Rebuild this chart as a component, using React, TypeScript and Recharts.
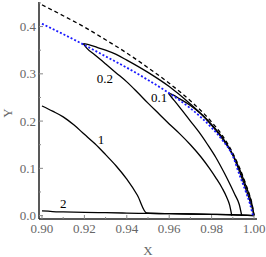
import React from 'react';
import { LineChart, Line, XAxis, YAxis, ReferenceDot, Label } from 'recharts';

// axis ticks (labelled majors, plus minor marks)
const xTicks = [0.9, 0.92, 0.94, 0.96, 0.98, 1.0];
const xMinorTicks = [0.9, 0.91, 0.92, 0.93, 0.94, 0.95, 0.96, 0.97, 0.98, 0.99, 1.0];
const yTicks = [0, 0.1, 0.2, 0.3, 0.4];
const yMinorTicks = [0, 0.05, 0.1, 0.15, 0.2, 0.25, 0.3, 0.35, 0.4, 0.45];

// dashed envelope
const envX = [0.9, 0.91, 0.92, 0.93, 0.94, 0.95, 0.96, 0.97, 0.975, 0.98, 0.985, 0.99, 0.993, 0.996, 0.998, 0.999, 1.0];
const envY = [0.446, 0.423, 0.399, 0.372, 0.344, 0.313, 0.28, 0.243, 0.222, 0.198, 0.17, 0.132, 0.103, 0.068, 0.042, 0.026, 0];

// blue dotted curve
const blueX = [0.9, 0.91, 0.92, 0.93, 0.94, 0.95, 0.96, 0.97, 0.975, 0.98, 0.985, 0.99, 0.993, 0.996, 0.998, 0.9995];
const blueY = [0.406, 0.384, 0.361, 0.337, 0.313, 0.287, 0.259, 0.227, 0.208, 0.186, 0.16, 0.126, 0.088, 0.052, 0.026, 0];

// loop "0.2": upper and lower branch
const up2X = [0.9195, 0.922, 0.926, 0.93, 0.935, 0.94, 0.95, 0.96, 0.97, 0.98, 0.985, 0.99, 0.993, 0.996, 0.998, 0.999, 1.0];
const up2Y = [0.364, 0.362, 0.356, 0.35, 0.341, 0.329, 0.303, 0.273, 0.236, 0.193, 0.166, 0.129, 0.1, 0.065, 0.04, 0.024, 0];
const lo2X = [0.9195, 0.921, 0.925, 0.93, 0.935, 0.94, 0.945, 0.95, 0.955, 0.96, 0.965, 0.97, 0.975, 0.979, 0.982, 0.985, 0.987, 0.9885, 0.9895];
const lo2Y = [0.364, 0.355, 0.34, 0.321, 0.302, 0.283, 0.261, 0.238, 0.216, 0.194, 0.173, 0.15, 0.124, 0.1, 0.08, 0.058, 0.04, 0.022, 0];

// loop "0.1": upper and lower branch
const up1X = [0.9596, 0.962, 0.965, 0.97, 0.975, 0.98, 0.985, 0.99, 0.993, 0.996, 0.998, 0.9995, 1.0];
const up1Y = [0.259, 0.255, 0.247, 0.233, 0.215, 0.191, 0.163, 0.128, 0.095, 0.058, 0.032, 0.01, 0];
const lo1X = [0.9596, 0.961, 0.963, 0.966, 0.97, 0.974, 0.978, 0.982, 0.986, 0.989, 0.991, 0.993, 0.9942];
const lo1Y = [0.259, 0.251, 0.24, 0.223, 0.2, 0.177, 0.151, 0.123, 0.09, 0.063, 0.044, 0.024, 0];

// curve "1"
const c1X = [0.9, 0.905, 0.91, 0.915, 0.92, 0.925, 0.93, 0.935, 0.94, 0.945, 0.9494, 0.96, 0.97, 0.98, 0.99, 1.0];
const c1Y = [0.232, 0.221, 0.209, 0.192, 0.172, 0.152, 0.129, 0.105, 0.077, 0.043, 0.0055, 0.004, 0.0034, 0.0027, 0.0018, 0];

// curve "2"
const c2X = [0.9, 0.905, 0.91, 0.92, 0.93, 0.94, 0.95, 0.96, 0.97, 0.98, 0.99, 0.995, 1.0];
const c2Y = [0.0098, 0.0086, 0.0079, 0.0069, 0.0061, 0.0053, 0.0046, 0.004, 0.0034, 0.0027, 0.0018, 0.0012, 0];

// curve annotations
const noteText = ['1', '2', '0.2', '0.1'];
const noteX = [0.9278, 0.91, 0.9297, 0.9552];
const noteY = [0.162, 0.025, 0.29, 0.251];

const pts = (xs: number[], ys: number[]) => xs.map((x, i) => ({ x, y: ys[i] }));
const isMajor = (list: number[], v: number) => list.some((t) => Math.abs(t - v) < 1e-6);

const FONT = '"Liberation Serif", "Times New Roman", serif';
const FRAME = '#222';
const GREY = '#666';
const TICK = '#888';
// plot frame edges in px
const LEFT = 39;
const RIGHT = 257;
const TOP = 2;
const BOTTOM = 219;

const BottomTick = (p: any) => {
  const v = p.payload.value;
  const major = isMajor(xTicks, v);
  return (
    <g>
      <line x1={p.x} x2={p.x} y1={BOTTOM} y2={BOTTOM - (major ? 4 : 2)} stroke={TICK} />
      {major && (
        <text x={p.x} y={p.y} dy="0.71em" textAnchor="middle" fontSize={13} fill={GREY}>
          {v.toFixed(2)}
        </text>
      )}
    </g>
  );
};

const TopTick = (p: any) => {
  const major = isMajor(xTicks, p.payload.value);
  return <line x1={p.x} x2={p.x} y1={TOP} y2={TOP + (major ? 4 : 2)} stroke={TICK} />;
};

const LeftTick = (p: any) => {
  const v = p.payload.value;
  const major = isMajor(yTicks, v);
  return (
    <g>
      <line x1={LEFT} x2={LEFT + (major ? 4 : 2)} y1={p.y} y2={p.y} stroke={TICK} />
      {major && (
        <text x={p.x} y={p.y} dy="0.355em" textAnchor="end" fontSize={13} fill={GREY}>
          {v.toFixed(1)}
        </text>
      )}
    </g>
  );
};

const RightTick = (p: any) => {
  const major = isMajor(yTicks, p.payload.value);
  return <line x1={RIGHT} x2={RIGHT - (major ? 4 : 2)} y1={p.y} y2={p.y} stroke={TICK} />;
};

const App: React.FC = () => {
  const curve = (key: string, data: { x: number; y: number }[], extra: any = {}) => (
    <Line
      key={key}
      data={data}
      dataKey="y"
      type="monotone"
      stroke="#000"
      strokeWidth={1.3}
      dot={false}
      activeDot={false}
      isAnimationActive={false}
      {...extra}
    />
  );

  return (
    <div style={{ position: 'absolute', left: 0, top: 0, width: 266, height: 257, background: '#fff', fontFamily: FONT }}>
      <style>{`svg text { font-family: ${FONT} !important; }`}</style>
      <LineChart width={266} height={257} margin={{ top: TOP, right: 266 - RIGHT, left: 0, bottom: 0 }}>
        <XAxis
          type="number"
          dataKey="x"
          domain={[0.8986, 1.0014]}
          allowDataOverflow
          ticks={xMinorTicks}
          interval={0}
          tick={<BottomTick />}
          tickSize={-4}
          tickMargin={9}
          height={257 - BOTTOM}
          axisLine={{ stroke: FRAME, strokeWidth: 1.5 }}
          tickLine={false}
          label={{ value: 'X', position: 'insideBottom', offset: 2, style: { fontSize: 13, fill: GREY, fontFamily: FONT } }}
        />
        <XAxis
          xAxisId="top"
          orientation="top"
          type="number"
          dataKey="x"
          domain={[0.8986, 1.0014]}
          allowDataOverflow
          ticks={xMinorTicks}
          interval={0}
          tick={<TopTick />}
          height={0}
          axisLine={{ stroke: FRAME, strokeWidth: 1.5 }}
          tickLine={false}
        />
        <YAxis
          type="number"
          domain={[-0.0072, 0.452]}
          allowDataOverflow
          ticks={yMinorTicks}
          interval={0}
          tick={<LeftTick />}
          tickSize={-4}
          tickMargin={7}
          width={LEFT}
          axisLine={{ stroke: FRAME, strokeWidth: 1.5 }}
          tickLine={false}
        >
          <Label
            content={() => (
              <text
                x={7}
                y={113}
                transform="rotate(-90 7 113)"
                textAnchor="middle"
                dominantBaseline="central"
                fontSize={13}
                fill={GREY}
              >
                Y
              </text>
            )}
          />
        </YAxis>
        <YAxis
          yAxisId="right"
          orientation="right"
          type="number"
          domain={[-0.0072, 0.452]}
          allowDataOverflow
          ticks={yMinorTicks}
          interval={0}
          tick={<RightTick />}
          width={0}
          axisLine={{ stroke: FRAME, strokeWidth: 1.5 }}
          tickLine={false}
        />
        {curve('c2', pts(c2X, c2Y))}
        {curve('c1', pts(c1X, c1Y))}
        {curve('lo2', pts(lo2X, lo2Y))}
        {curve('up2', pts(up2X, up2Y))}
        {curve('lo1', pts(lo1X, lo1Y))}
        {curve('up1', pts(up1X, up1Y))}
        {curve('env', pts(envX, envY), { strokeDasharray: '4 3', strokeWidth: 1.3 })}
        {curve('blue', pts(blueX, blueY), { stroke: '#1a1aff', strokeDasharray: '2 2', strokeWidth: 1.8 })}
        {noteText.map((t, i) => (
          <ReferenceDot
            key={t}
            x={noteX[i]}
            y={noteY[i]}
            r={0}
            fill="none"
            stroke="none"
            label={{ value: t, position: 'center', style: { fontSize: 13, fill: '#000', fontFamily: FONT } }}
          />
        ))}
      </LineChart>
    </div>
  );
};

export default App;
